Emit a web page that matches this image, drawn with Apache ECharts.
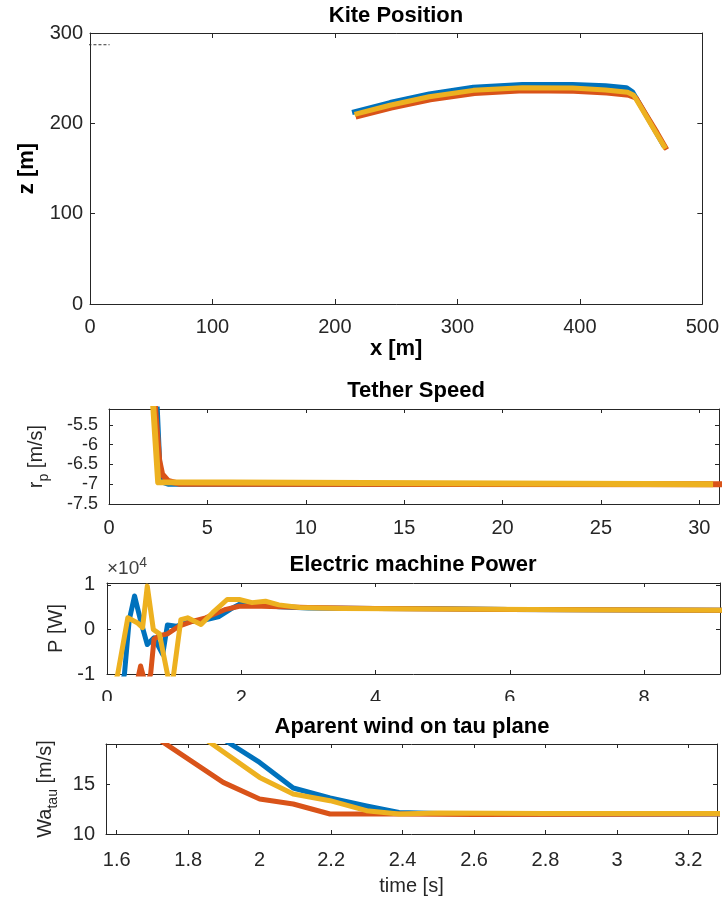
<!DOCTYPE html>
<html>
<head>
<meta charset="utf-8">
<title>Kite simulation</title>
<script src="https://cdn.jsdelivr.net/npm/echarts@6/dist/echarts.min.js"></script>
<style>
  html, body { margin: 0; padding: 0; background: #fff; }
  #chart { width: 722px; height: 906px; }
</style>
</head>
<body>
<div id="chart"></div>
<script>
// ---- data (blue = run 1, red = run 2, yellow = run 3) ----

// Kite Position: x [m], z [m]
var kiteX1 = [214, 245, 277, 313, 353, 394, 421, 438, 443, 452, 461, 469];
var kiteZ1 = [212, 223, 232.5, 240, 243, 243, 241.5, 239.5, 235, 214, 193, 174];
var kiteX2 = [217, 246, 278, 314, 354, 395, 422, 440, 446, 454, 463, 471];
var kiteZ2 = [207, 217, 226, 233, 236, 235.5, 233.5, 231, 228, 210, 190, 171];
var kiteX3 = [216, 245, 277, 313, 353, 394, 421, 439, 444, 452, 462, 470];
var kiteZ3 = [210, 220, 229.5, 236.5, 239.5, 239, 237, 234.5, 231, 213, 190, 172];
// stray dashed marker at the top left of the first plot
var markX = [-38, 16];
var markZ = [287, 287];

// Tether Speed: time [s], r_p [m/s]
var speedT1 = [2.40, 2.58, 2.70, 3.0, 30.7];
var speedV1 = [-4.5, -6.5, -6.95, -7.0, -7.0];
var speedT2 = [2.25, 2.55, 2.70, 3.0, 3.6, 31.2];
var speedV2 = [-4.5, -6.4, -6.75, -6.92, -6.99, -7.0];
var speedT3 = [2.18, 2.50, 2.60, 30.7];
var speedV3 = [-4.5, -6.95, -7.0, -7.0];

// Electric machine Power: time [s], P [W]
var powerT1 = [0.2, 0.26, 0.33, 0.41, 0.5, 0.6, 0.7, 0.83, 0.9, 1.03, 1.22, 1.42, 1.67, 1.87, 2.02, 2.26, 2.56, 3.0, 4, 5, 6, 7, 8, 9.2];
var powerP1 = [-14000, -10000, 2000, 7500, 2000, -3400, -1900, -5600, 1000, 700, 1700, 2000, 2900, 4800, 6000, 5500, 5100, 4800, 4700, 4600, 4450, 4400, 4350, 4300];
var powerT2 = [0.46, 0.5, 0.55, 0.6, 0.65, 0.7, 0.78, 0.9, 1.07, 1.27, 1.47, 1.77, 1.97, 2.3, 3.0, 4, 6, 8, 9.2];
var powerP2 = [-11000, -8200, -11000, -12000, -10000, -2200, -1400, -1000, 700, 1800, 2600, 4500, 5200, 5200, 4900, 4700, 4450, 4350, 4300];
var powerT3 = [0.1, 0.16, 0.31, 0.45, 0.53, 0.6, 0.69, 0.78, 0.92, 0.98, 1.1, 1.2, 1.4, 1.57, 1.79, 1.97, 2.16, 2.36, 2.56, 2.87, 3.5, 5, 7, 9.2];
var powerP3 = [-13000, -10000, 2600, 1500, 400, 9700, 0, -1000, -11500, -11500, 2200, 2600, 1100, 3700, 6700, 6700, 6000, 6300, 5500, 4900, 4700, 4550, 4400, 4300];

// Aparent wind on tau plane: time [s], Wa_tau [m/s]
var windT1 = [1.90, 2.0, 2.094, 2.197, 2.299, 2.39, 2.5, 2.8, 3.3];
var windW1 = [19.43, 17.16, 14.6, 13.6, 12.8, 12.15, 12.05, 12.0, 12.0];
var windT2 = [1.72, 1.898, 2.0, 2.094, 2.197, 2.39, 2.6, 3.0, 3.3];
var windW2 = [19.42, 15.16, 13.5, 13.0, 12.0, 12.0, 11.95, 11.98, 12.0];
var windT3 = [1.85, 2.0, 2.094, 2.197, 2.299, 2.39, 2.5, 2.8, 3.3];
var windW3 = [19.43, 15.66, 14.0, 13.33, 12.33, 12.0, 12.1, 12.05, 12.05];
var windTicks = [1.6, 1.8, 2.0, 2.2, 2.4, 2.6, 2.8, 3.0, 3.2];

// ---- styling ----
var FONT = "'Liberation Sans', Arial, Helvetica, sans-serif";
var AXC = '#262626';
var BLUE = '#0072BD', RED = '#D95319', YELLOW = '#EDB120';

function pairs(xs, ys) {
  var out = [];
  for (var i = 0; i < xs.length; i++) out.push([xs[i], ys[i]]);
  return out;
}

function line(g, xs, ys, color, width, z) {
  return {
    type: 'line',
    xAxisIndex: 2 * g,
    yAxisIndex: 2 * g,
    data: pairs(xs, ys),
    symbol: 'none',
    clip: true,
    silent: true,
    animation: false,
    z: z,
    lineStyle: { color: color, width: width, join: 'round' }
  };
}

// bottom axis + mirrored top axis (MATLAB box)
function xPair(g, min, max, interval, o) {
  o = o || {};
  var base = {
    type: 'value', gridIndex: g, min: min, max: max, interval: interval,
    splitLine: { show: false },
    axisLine: { show: true, onZero: false, lineStyle: { color: AXC, width: 1 } },
    axisTick: { show: true, inside: true, length: o.tick || 4, lineStyle: { color: AXC } }
  };
  if (o.custom) base.axisTick.customValues = o.custom;
  var bottom = echarts.util.merge({
    position: 'bottom',
    axisLabel: {
      show: true, color: AXC, fontFamily: FONT, fontSize: 20, margin: o.margin || 14,
      hideOverlap: false, showMinLabel: true, showMaxLabel: o.showMax === true, formatter: o.fmt
    }
  }, base, true);
  if (o.custom) bottom.axisLabel.customValues = o.custom;
  if (o.name) {
    bottom.name = o.name;
    bottom.nameLocation = 'middle';
    bottom.nameGap = o.nameGap;
    bottom.nameTextStyle = { color: o.nameColor || AXC, fontFamily: FONT, fontSize: o.nameSize || 20, fontWeight: o.nameWeight || 'normal' };
  }
  var top = echarts.util.merge({ position: 'top', axisLabel: { show: false } }, base, true);
  return [bottom, top];
}

function yPair(g, min, max, interval, o) {
  o = o || {};
  var base = {
    type: 'value', gridIndex: g, min: min, max: max, interval: interval,
    splitLine: { show: false },
    axisLine: { show: true, onZero: false, lineStyle: { color: AXC, width: 1 } },
    axisTick: { show: true, inside: true, length: o.tick || 4, lineStyle: { color: AXC } }
  };
  var left = echarts.util.merge({
    position: 'left',
    axisLabel: {
      show: true, color: AXC, fontFamily: FONT, fontSize: o.labelSize || 20, lineHeight: o.labelSize || 20,
      margin: o.margin || 11,
      hideOverlap: false, showMinLabel: true, showMaxLabel: o.showMax === true, formatter: o.fmt
    },
    name: o.name,
    nameLocation: 'middle',
    nameGap: o.nameGap,
    nameRotate: 90,
    nameTextStyle: {
      color: o.nameColor || AXC, fontFamily: FONT, fontSize: o.nameSize || 20,
      fontWeight: o.nameWeight || 'normal',
      rich: {
        n: { color: o.nameColor || AXC, fontFamily: FONT, fontSize: o.nameSize || 20 },
        sub: { color: o.nameColor || AXC, fontFamily: FONT, fontSize: 14, padding: [15, 0, 0, 0] }
      }
    }
  }, base, true);
  var right = echarts.util.merge({ position: 'right', axisLabel: { show: false } }, base, true);
  return [left, right];
}

var x1 = xPair(0, 0, 500, 100, { tick: 5, margin: 13, showMax: true, name: 'x [m]', nameGap: 33, nameSize: 22, nameWeight: 'bold', nameColor: '#000' });
var y1 = yPair(0, 0, 300, 100, { tick: 5, margin: 7, showMax: true, name: 'z [m]', nameGap: 52, nameSize: 22, nameWeight: 'bold', nameColor: '#000' });

var x2 = xPair(1, 0, 31, 5, { margin: 14 });
var y2 = yPair(1, -7.5, -5.1, 0.5, { margin: 11, labelSize: 18, name: '{n|r}{sub|p}{n| [m/s]}', nameGap: 58 });

var x3 = xPair(2, 0, 9.13, 2, { margin: 14 });
var y3 = yPair(2, -10000, 10400, 10000, {
  margin: 12, name: 'P [W]', nameGap: 38,
  fmt: function (v) { return String(Math.round(v / 10000)); }
});

var x4 = xPair(3, 1.57, 3.28, 0.2, {
  margin: 16, custom: windTicks, showMax: true, name: 'time [s]', nameGap: 42,
  fmt: function (v) { return String(+(+v).toFixed(1)); }
});
var y4 = yPair(3, 10, 19, 5, { margin: 11, name: '{n|Wa}{sub|tau}{n| [m/s]}', nameGap: 46 });

var titleStyle = { color: '#000', fontFamily: FONT, fontSize: 22, fontWeight: 'bold' };

var option = {
  backgroundColor: '#fff',
  animation: false,
  title: [
    { text: 'Kite Position', left: 396, top: 5, textAlign: 'center', padding: 0, textStyle: titleStyle, z: 60 },
    { text: 'Tether Speed', left: 416, top: 380, textAlign: 'center', padding: 0, textStyle: titleStyle, z: 60 },
    { text: 'Electric machine Power', left: 413, top: 554, textAlign: 'center', padding: 0, textStyle: titleStyle, z: 60 },
    { text: 'Aparent wind on tau plane', left: 412, top: 716, textAlign: 'center', padding: 0, textStyle: titleStyle, z: 60 },
    {
      text: '×10{sup|4}', left: 107, top: 556, padding: 0, z: 60,
      textStyle: {
        color: '#404040', fontFamily: FONT, fontSize: 19, fontWeight: 'normal',
        rich: { sup: { color: '#404040', fontFamily: FONT, fontSize: 14, padding: [0, 0, 12, 0] } }
      }
    }
  ],
  grid: [
    { left: 90, top: 33, width: 613, height: 271 },
    { left: 109, top: 409, width: 610, height: 95 },
    { left: 107, top: 583, width: 613, height: 91 },
    { left: 106, top: 744, width: 611, height: 90 }
  ],
  xAxis: x1.concat(x2, x3, x4),
  yAxis: y1.concat(y2, y3, y4),
  graphic: [
    // the next axes hide the lower half of the power plot tick labels
    { type: 'rect', left: 90, top: 701, shape: { width: 632, height: 42 }, style: { fill: '#fff' }, z: 50 }
  ],
  series: [
    line(0, kiteX1, kiteZ1, BLUE, 5, 2),
    line(0, kiteX2, kiteZ2, RED, 5, 3),
    line(0, kiteX3, kiteZ3, YELLOW, 5, 4),
    {
      type: 'line', xAxisIndex: 0, yAxisIndex: 0, data: pairs(markX, markZ),
      symbol: 'none', clip: false, silent: true, z: 5,
      lineStyle: { color: '#333', width: 1, type: [3, 2] }
    },

    line(1, speedT1, speedV1, BLUE, 5, 2),
    line(1, speedT2, speedV2, RED, 6, 3),
    line(1, speedT3, speedV3, YELLOW, 6, 4),

    line(2, powerT1, powerP1, BLUE, 5, 2),
    line(2, powerT2, powerP2, RED, 5, 3),
    line(2, powerT3, powerP3, YELLOW, 5, 4),

    line(3, windT1, windW1, BLUE, 5, 2),
    line(3, windT2, windW2, RED, 5, 3),
    line(3, windT3, windW3, YELLOW, 5, 4)
  ]
};

var chart = echarts.init(document.getElementById('chart'), null, { renderer: 'canvas' });
chart.setOption(option);
</script>
</body>
</html>
